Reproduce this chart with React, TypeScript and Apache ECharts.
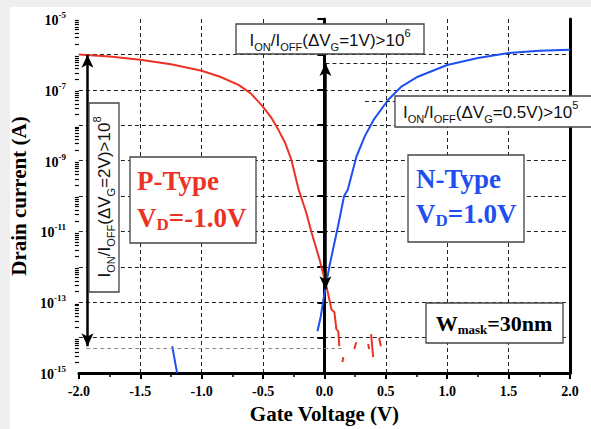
import React, { useEffect, useRef } from "react";
import * as echarts from "echarts";

// ---------- data (log10 of drain current in A vs gate voltage in V) ----------
const xMin = -2.0;
const xMax = 2.0;
const xInterval = 0.5;
const yMinExp = -15;
const yMaxExp = -5;

const pTypeCurve: [number, number][] = [
  [-2.0, -6.0], [-1.75, -6.06], [-1.5, -6.15], [-1.25, -6.28], [-1.0, -6.46],
  [-0.85, -6.63], [-0.7, -6.86], [-0.6, -7.1], [-0.5, -7.48], [-0.43, -7.8],
  [-0.375, -8.13], [-0.32, -8.5], [-0.27, -8.97], [-0.21, -9.82], [-0.15, -10.45],
  [-0.105, -11.03], [-0.04, -11.79], [0.016, -12.55], [0.04, -12.92], [0.057, -13.2],
  [0.081, -13.28], [0.097, -13.76], [0.113, -13.82], [0.121, -14.24],
];
const pTypeNoise: [number, number][][] = [
  [[0.146, -14.69], [0.154, -14.55]],
  [[0.243, -14.32], [0.259, -14.13]],
  [[0.356, -14.18], [0.364, -14.32]],
  [[0.38, -13.9], [0.397, -14.55]],
  [[0.445, -14.0], [0.46, -14.24]],
];
const nTypeCurve: [number, number][] = [
  [-0.057, -13.82], [-0.03, -13.4], [-0.008, -12.92], [0.04, -11.99], [0.11, -10.86],
  [0.16, -10.0], [0.19, -9.82], [0.26, -8.89], [0.33, -8.3], [0.4, -7.85],
  [0.52, -7.28], [0.63, -6.9], [0.76, -6.63], [1.0, -6.3], [1.25, -6.1],
  [1.5, -5.96], [1.75, -5.9], [2.0, -5.87],
];
const nTypeTail: [number, number][] = [[-1.24, -14.24], [-1.2, -15.0]];

// ratio arrows: x position, top and bottom log current
const ratioArrows = [
  { x: -1.93, top: -6.01, bottom: -14.24 },
  { x: 0.008, top: -6.24, bottom: -12.63 },
];
// dashed reference levels
const refLines = [
  { x1: -1.94, x2: 0.14, y: -14.3, color: "#8a8a8a" },
  { x1: 0.008, x2: 1.0, y: -6.24, color: "#222" },
  { x1: 0.33, x2: 0.58, y: -7.33, color: "#222" },
];

const RED = "#ea3326";
const BLUE = "#1f4ff0";
const SERIF = '"Liberation Serif", "Times New Roman", serif';
const SANS = '"Liberation Sans", Arial, sans-serif';

function minorLogTicks(): number[] {
  const out: number[] = [];
  for (let n = yMinExp; n < yMaxExp; n++) {
    for (let k = 2; k <= 9; k++) out.push(n + Math.log10(k));
  }
  return out;
}

function ratioRich(size: number) {
  return {
    n: { fontSize: size, fontFamily: SANS, fill: "#111", color: "#111", lineHeight: size + 8, verticalAlign: "middle" },
    sub: { fontSize: size * 0.65, fontFamily: SANS, fill: "#111", color: "#111", lineHeight: 8, verticalAlign: "bottom" },
    sup: { fontSize: size * 0.65, fontFamily: SANS, fill: "#111", color: "#111", lineHeight: 8, verticalAlign: "top" },
  };
}

function typeRich(color: string) {
  return {
    b: { fontSize: 27, fontFamily: SERIF, fontWeight: "bold", fill: color, color, lineHeight: 30, verticalAlign: "middle" },
    sub: { fontSize: 17, fontFamily: SERIF, fontWeight: "bold", fill: color, color, lineHeight: 10, verticalAlign: "bottom" },
  };
}

function box(x: number, y: number, w: number, h: number) {
  return {
    type: "rect",
    shape: { x, y, width: w, height: h },
    style: { fill: "#fff", stroke: "#444", lineWidth: 1.3 },
    z: 10,
  };
}

export default function App() {
  const ref = useRef<HTMLDivElement>(null);
  useEffect(() => {
    if (!ref.current) return;
    const chart = echarts.init(ref.current, undefined, { renderer: "svg" });

    const seriesList: any[] = [];
    seriesList.push({
      type: "line",
      data: pTypeCurve,
      showSymbol: false,
      symbol: "none",
      lineStyle: { color: RED, width: 2 },
      z: 3,
      markLine: {
        silent: true,
        symbol: "none",
        label: { show: false },
        data: refLines.map((r) => [
          { coord: [r.x1, r.y], lineStyle: { color: r.color, width: 1, type: [4, 3] } },
          { coord: [r.x2, r.y] },
        ]),
      },
    });
    pTypeNoise.forEach((seg) =>
      seriesList.push({ type: "line", data: seg, symbol: "none", lineStyle: { color: RED, width: 2 }, z: 3 })
    );
    seriesList.push({
      type: "line",
      data: nTypeCurve,
      symbol: "none",
      lineStyle: { color: BLUE, width: 2 },
      z: 3,
      markLine: {
        silent: true,
        symbol: ["arrow", "arrow"],
        symbolSize: [9, 13],
        label: { show: false },
        lineStyle: { color: "#000", width: 2.5, type: "solid" },
        data: ratioArrows.map((a) => [
          { coord: [a.x, a.top] },
          { coord: [a.x, a.bottom] },
        ]),
        z: 5,
      },
    });
    seriesList.push({ type: "line", data: nTypeTail, symbol: "none", lineStyle: { color: BLUE, width: 2 }, z: 3 });

    const option: any = {
      animation: false,
      grid: { left: 75, right: 21, top: 19, bottom: 55 },
      xAxis: {
        type: "value",
        min: xMin,
        max: xMax,
        interval: xInterval,
        name: "Gate Voltage (V)",
        nameLocation: "middle",
        nameGap: 28,
        nameTextStyle: { fontFamily: SERIF, fontWeight: "bold", fontSize: 21, color: "#000" },
        axisLine: { show: true, onZero: false, lineStyle: { color: "#000", width: 3 } },
        axisTick: { show: true, length: 6, lineStyle: { color: "#000", width: 2 } },
        minorTick: { show: true, splitNumber: 2, length: 4, lineStyle: { color: "#000", width: 1.5 } },
        axisLabel: {
          margin: 11,
          fontFamily: SERIF,
          fontWeight: "bold",
          fontSize: 14,
          color: "#000",
          formatter: (v: number) => v.toFixed(1),
        },
        splitLine: { show: true, showMinLine: false, showMaxLine: false, lineStyle: { color: "#222", width: 1, type: [4, 3] } },
      },
      yAxis: [
        {
          type: "value",
          min: yMinExp,
          max: yMaxExp,
          interval: 1,
          position: "left",
          name: "Drain current (A)",
          nameLocation: "middle",
          nameGap: 40,
          nameTextStyle: { fontFamily: SERIF, fontWeight: "bold", fontSize: 21, color: "#000" },
          axisLine: { show: true, lineStyle: { color: "#000", width: 3 } },
          axisTick: { show: true, length: 7, lineStyle: { color: "#000", width: 2 } },
          axisLabel: {
            margin: 13,
            formatter: (v: number) => (Math.abs(v) % 2 === 1 ? `{b|10}{s|${v}}` : ""),
            rich: {
              b: { fontFamily: SERIF, fontWeight: "bold", fontSize: 14, color: "#000", lineHeight: 17, verticalAlign: "bottom" },
              s: { fontFamily: SERIF, fontWeight: "bold", fontSize: 9, color: "#000", lineHeight: 9, verticalAlign: "top" },
            },
          },
          splitLine: { show: true, showMinLine: false, showMaxLine: false, lineStyle: { color: "#222", width: 1, type: [4, 3] } },
        },
        {
          type: "value",
          min: yMinExp,
          max: yMaxExp,
          position: "left",
          axisLine: { show: false },
          axisLabel: { show: false },
          splitLine: { show: false },
          axisTick: { show: true, length: 4, customValues: minorLogTicks(), lineStyle: { color: "#000", width: 1.2 } },
        },
        {
          type: "value",
          min: yMinExp,
          max: yMaxExp,
          position: "right",
          axisLine: { show: true, lineStyle: { color: "#000", width: 3 } },
          axisLabel: { show: false },
          axisTick: { show: false },
          splitLine: { show: false },
        },
      ],
      series: seriesList,
      graphic: [
        // ratio 1V box
        box(236, 24, 188, 30),
        {
          type: "text",
          z: 11,
          style: {
            x: 330, y: 40, textAlign: "center", textVerticalAlign: "middle",
            text: "{n|I}{sub|ON}{n|/I}{sub|OFF}{n|(ΔV}{sub|G}{n|=1V)>10}{sup|6}",
            rich: ratioRich(17),
          },
        },
        // ratio 0.5V box
        box(395, 96, 215, 31),
        {
          type: "text",
          z: 11,
          style: {
            x: 403, y: 112, textAlign: "left", textVerticalAlign: "middle",
            text: "{n|I}{sub|ON}{n|/I}{sub|OFF}{n|(ΔV}{sub|G}{n|=0.5V)>10}{sup|5}",
            rich: ratioRich(17),
          },
        },
        // rotated 2V box
        box(89, 103, 30, 189),
        {
          type: "text",
          z: 11,
          x: 104, y: 197, rotation: Math.PI / 2,
          style: {
            x: 0, y: 0, textAlign: "center", textVerticalAlign: "middle",
            text: "{n|I}{sub|ON}{n|/I}{sub|OFF}{n|(ΔV}{sub|G}{n|=2V)>10}{sup|8}",
            rich: ratioRich(17),
          },
        },
        // P-Type box
        box(130, 157, 126, 86),
        {
          type: "text", z: 11,
          style: { x: 137, y: 181, textAlign: "left", textVerticalAlign: "middle", text: "{b|P-Type}", rich: typeRich(RED) },
        },
        {
          type: "text", z: 11,
          style: { x: 137, y: 218, textAlign: "left", textVerticalAlign: "middle", text: "{b|V}{sub|D}{b|=-1.0V}", rich: typeRich(RED) },
        },
        // N-Type box
        box(408, 155, 116, 87),
        {
          type: "text", z: 11,
          style: { x: 416, y: 179, textAlign: "left", textVerticalAlign: "middle", text: "{b|N-Type}", rich: typeRich(BLUE) },
        },
        {
          type: "text", z: 11,
          style: { x: 416, y: 214, textAlign: "left", textVerticalAlign: "middle", text: "{b|V}{sub|D}{b|=1.0V}", rich: typeRich(BLUE) },
        },
        // W mask box
        box(426, 303, 137, 40),
        {
          type: "text", z: 11,
          style: {
            x: 494, y: 323, textAlign: "center", textVerticalAlign: "middle",
            text: "{b|W}{sub|mask}{b|=30nm}",
            rich: {
              b: { fontSize: 22, fontFamily: SERIF, fontWeight: "bold", fill: "#000", lineHeight: 26, verticalAlign: "middle" },
              sub: { fontSize: 13, fontFamily: SERIF, fontWeight: "bold", fill: "#000", lineHeight: 8, verticalAlign: "bottom" },
            },
          },
        },
      ],
    };
    chart.setOption(option);
    return () => chart.dispose();
  }, []);

  return (
    <div style={{ position: "fixed", left: 0, top: 0, width: 591, height: 429, background: "#efefef" }}>
      <div style={{ position: "absolute", left: 10, top: 7, right: 0, bottom: 0, background: "#fff" }} />
      <div ref={ref} style={{ position: "absolute", left: 0, top: 0, width: 591, height: 429 }} />
    </div>
  );
}
